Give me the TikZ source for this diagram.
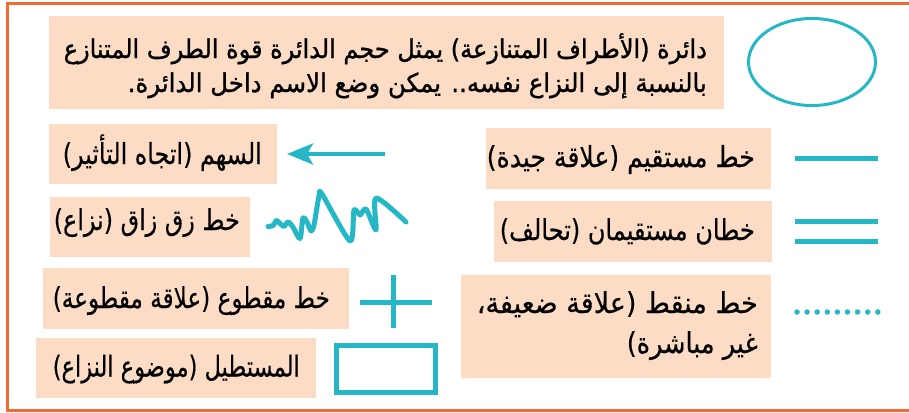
\documentclass[tikz,border=0pt]{standalone}
\usepackage{fontspec}
\usepackage{graphicx}
\usetikzlibrary{arrows.meta,shapes.geometric}
\newfontfamily\arabicfont[Script=Arabic,FakeBold=0.4]{DejaVu Sans}
\newfontfamily\arabicfontb[Script=Arabic,FakeBold=1.2]{DejaVu Sans}
\TeXXeTstate=1
\definecolor{frameorange}{HTML}{EF6C33}
\definecolor{peach}{HTML}{FDDCC5}
\definecolor{symteal}{HTML}{26B7C6}
\newcommand\artxt[2]{\resizebox{#1}{\height}{#2}}
\begin{document}
\begin{tikzpicture}[x=1bp,y=-1bp,
  legbox/.style={fill=peach, draw=none, inner sep=0pt},
  legtxt/.style={inner sep=0pt, anchor=base east, font=\fontsize{29}{36}\arabicfont},
  desctxt/.style={legtxt, font=\fontsize{26}{34}\arabicfontb},
  symline/.style={draw=symteal, line width=5bp}]
\useasboundingbox (0,0) rectangle (909,412);
% frame
\draw[frameorange, line width=3bp] (909,3.5) -- (7.5,3.5) -- (7.5,410.5) -- (909,410.5);
% boxes
\node[legbox, minimum width=675bp, minimum height=93bp] (desc) at (386.5,62.5) {};
\node[legbox, minimum width=228bp, minimum height=60bp] (arrowbox) at (163,154) {};
\node[legbox, minimum width=200bp, minimum height=60bp] (zigbox) at (150,227) {};
\node[legbox, minimum width=306bp, minimum height=61bp] (cutbox) at (196,298.5) {};
\node[legbox, minimum width=280bp, minimum height=60bp] (rectbox) at (176,368) {};
\node[legbox, minimum width=285bp, minimum height=61bp] (goodbox) at (628.5,158.5) {};
\node[legbox, minimum width=278bp, minimum height=61bp] (allybox) at (633,231.5) {};
\node[legbox, minimum width=310bp, minimum height=103bp] (dotbox) at (616,326.5) {};
% texts
\node[desctxt] (desc1) at (707,58)
  {\artxt{643bp}{\beginR دائرة (الأطراف المتنازعة) يمثل حجم الدائرة قوة الطرف المتنازع\endR}};
\node[desctxt] (desc2) at (707,92)
  {\artxt{579bp}{\beginR بالنسبة إلى النزاع نفسه.. يمكن وضع الاسم داخل الدائرة.\endR}};
\node[legtxt] (arrowtxt) at (262,164) {\artxt{199bp}{\beginR السهم (اتجاه التأثير)\endR}};
\node[legtxt] (zigtxt) at (240,230) {\artxt{186bp}{\beginR خط زق زاق (نزاع)\endR}};
\node[legtxt] (cuttxt) at (330,308) {\artxt{277bp}{\beginR خط مقطوع (علاقة مقطوعة)\endR}};
\node[legtxt] (recttxt) at (300,376.5) {\artxt{247bp}{\beginR المستطيل (موضوع النزاع)\endR}};
\node[legtxt] (goodtxt) at (755,167) {\artxt{268bp}{\beginR خط مستقيم (علاقة جيدة)\endR}};
\node[legtxt] (allytxt) at (755,240) {\artxt{255bp}{\beginR خطان مستقيمان (تحالف)\endR}};
\node[legtxt] (dottxt1) at (758,313) {\artxt{281bp}{\beginR خط منقط (علاقة ضعيفة،\endR}};
\node[legtxt] (dottxt2) at (758,353) {\artxt{131bp}{\beginR غير مباشرة)\endR}};
% ellipse
\node[draw=symteal, line width=3bp, ellipse, minimum width=127bp, minimum height=87bp, inner sep=0pt] (circ) at (812,62) {};
% arrow
\coordinate (arS) at (385,154);
\coordinate (arE) at (287,154);
\draw[symteal, line width=4.5bp, -{Stealth[length=26bp, width=21bp, inset=6bp]}] (arS) -- (arE);
% zigzag
\draw[symteal, line width=5bp, line join=round, line cap=round]
  plot[smooth, tension=0.45] coordinates {(268,226.5) (273,225.5) (276.5,220.5) (280,223.5) (284,226.5)
  (288,222) (293,227) (300,238.5) (303,218) (307,222) (311,231) (314,225) (319,196) (322,194)
  (350,241) (354,210) (360,215) (366,209) (376,230) (376,198) (406,222)};
% straight line
\coordinate (s1a) at (795,158); \coordinate (s1b) at (878,158);
\draw[symline] (s1a) -- (s1b);
% double line
\coordinate (d1a) at (795,221); \coordinate (d1b) at (878,221);
\coordinate (d2a) at (795,241); \coordinate (d2b) at (878,241);
\draw[symline] (d1a) -- (d1b);
\draw[symline] (d2a) -- (d2b);
% dotted line
\coordinate (dta) at (797,312); \coordinate (dtb) at (880,312);
\draw[symteal, line width=5.5bp, line cap=round, dash pattern=on 0bp off 10.1bp] (dta) -- (dtb);
% cut line
\coordinate (ch1) at (360,302); \coordinate (ch2) at (432,302);
\coordinate (cv1) at (393,275); \coordinate (cv2) at (393,328);
\draw[symline] (ch1) -- (ch2);
\draw[symline] (cv1) -- (cv2);
% rectangle
\node[draw=symteal, line width=5bp, minimum width=99bp, minimum height=47bp, inner sep=0pt] (issue) at (386,369) {};
\end{tikzpicture}
\end{document}
